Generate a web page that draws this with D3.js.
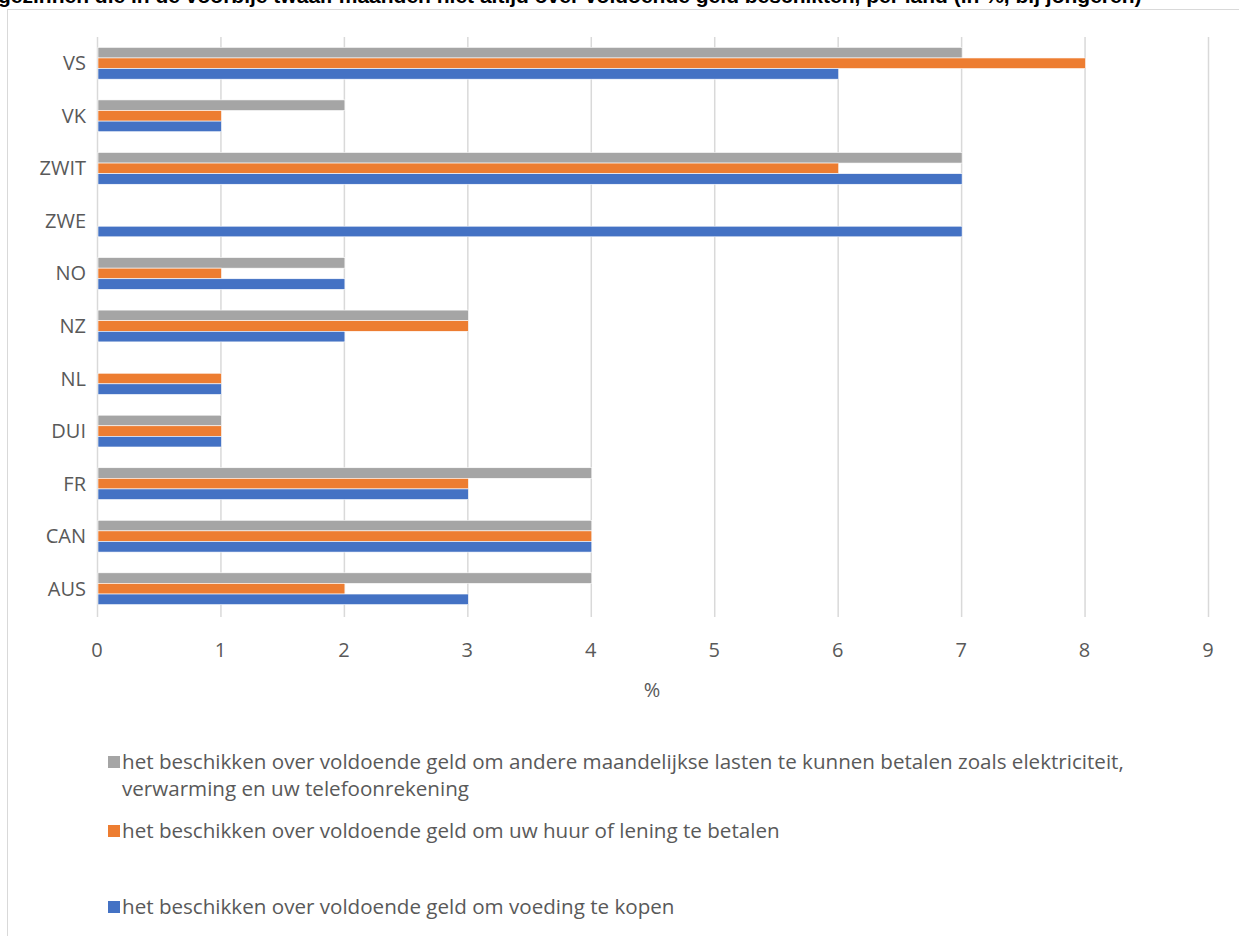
<!DOCTYPE html>
<html>
<head>
<meta charset="utf-8">
<script src="https://cdn.jsdelivr.net/npm/d3@7"></script>
<style>
  html, body { margin: 0; padding: 0; background: #fff; }
  svg { display: block; }
</style>
</head>
<body>
<svg id="chart" width="1239" height="936"></svg>
<script>
// Countries, listed from the bottom of the chart upwards
const countries = ["AUS", "CAN", "FR", "DUI", "NL", "NZ", "NO", "ZWE", "ZWIT", "VK", "VS"];

// Percentages per country (same order as countries)
const foodValues  = [3, 4, 3, 1, 1, 2, 2, 7, 7, 1, 6];
const rentValues  = [2, 4, 3, 1, 1, 3, 1, 0, 6, 1, 8];
const billsValues = [4, 4, 4, 1, 0, 3, 2, 0, 7, 2, 7];

const xTicks = [0, 1, 2, 3, 4, 5, 6, 7, 8, 9];

// Legend entries (top to bottom); "|" marks a line break
const seriesNames = [
  "het beschikken over voldoende geld om andere maandelijkse lasten te kunnen betalen zoals elektriciteit,|verwarming en uw telefoonrekening",
  "het beschikken over voldoende geld om uw huur of lening te betalen",
  "het beschikken over voldoende geld om voeding te kopen"
];
const seriesColors = ["#A5A5A5", "#ED7D31", "#4472C4"];
const seriesValues = [billsValues, rentValues, foodValues];

const titleText = "gezinnen die in de voorbije twaalf maanden niet altijd over voldoende geld beschikten, per land (in %, bij jongeren)";

const svg = d3.select("#chart");
const FONT = "'Open Sans', 'DejaVu Sans', sans-serif";
const TEXT = "#595959";
const FS = 20;

// Chart frame
svg.append("rect")
  .attr("x", 7.5).attr("y", 9.5)
  .attr("width", 1260).attr("height", 960)
  .attr("fill", "#fff").attr("stroke", "#d9d9d9").attr("stroke-width", 1);

// Title, sitting above the frame
svg.append("text")
  .attr("x", -2).attr("y", 3)
  .attr("font-family", "'Liberation Sans', Arial, sans-serif")
  .attr("font-weight", "bold")
  .attr("font-size", 21)
  .attr("fill", "#000")
  .text(titleText);

// Scales
const x = d3.scaleLinear().domain([0, 9]).range([97, 1208]);
const y = d3.scaleBand().domain(countries).range([615, 37]).paddingInner(0).paddingOuter(0);
const barH = 10.6;
const groupH = barH * 3;

// Vertical gridlines (extending slightly below plot as tick marks)
svg.append("g")
  .selectAll("line")
  .data(xTicks)
  .join("line")
  .attr("x1", d => x(d) + 0.5).attr("x2", d => x(d) + 0.5)
  .attr("y1", 37).attr("y2", 617)
  .attr("stroke", "#d9d9d9").attr("stroke-width", 1.5);

// Bars
seriesValues.forEach((vals, si) => {
  svg.append("g")
    .selectAll("rect")
    .data(countries.map((c, i) => ({ c, v: vals[i] })))
    .join("rect")
    .attr("x", x(0) + 1)
    .attr("y", d => y(d.c) + y.bandwidth() / 2 - groupH / 2 + si * barH)
    .attr("width", d => Math.max(0, x(d.v) - x(0)))
    .attr("height", barH)
    .attr("fill", seriesColors[si])
    .attr("stroke", "#fff").attr("stroke-width", 0.6)
    .attr("display", d => d.v > 0 ? null : "none");
});

// Category axis labels
svg.append("g")
  .selectAll("text")
  .data(countries)
  .join("text")
  .attr("x", 86)
  .attr("y", d => y(d) + y.bandwidth() / 2)
  .attr("dy", "0.35em")
  .attr("text-anchor", "end")
  .attr("font-family", FONT).attr("font-size", FS)
  .attr("fill", TEXT)
  .text(d => d);

// Value axis tick labels
svg.append("g")
  .selectAll("text")
  .data(xTicks)
  .join("text")
  .attr("x", d => x(d))
  .attr("y", 650)
  .attr("dy", "0.35em")
  .attr("text-anchor", "middle")
  .attr("font-family", FONT).attr("font-size", FS)
  .attr("fill", TEXT)
  .text(d => d);

// Axis title
svg.append("text")
  .attr("x", 652).attr("y", 690)
  .attr("dy", "0.35em")
  .attr("text-anchor", "middle")
  .attr("font-family", FONT).attr("font-size", FS)
  .attr("fill", TEXT)
  .text("%");

// Legend
const legendRows = [762, 831, 907];
const legend = svg.append("g");
seriesNames.forEach((name, i) => {
  const ly = legendRows[i];
  legend.append("rect")
    .attr("x", 108).attr("y", ly - 6)
    .attr("width", 12).attr("height", 12)
    .attr("fill", seriesColors[i]);
  const t = legend.append("text")
    .attr("font-family", FONT).attr("font-size", 20.6)
    .attr("fill", TEXT);
  name.split("|").forEach((line, j) => {
    t.append("tspan")
      .attr("x", 122)
      .attr("y", ly + j * 27)
      .attr("dy", "0.35em")
      .text(line);
  });
});
</script>
</body>
</html>
